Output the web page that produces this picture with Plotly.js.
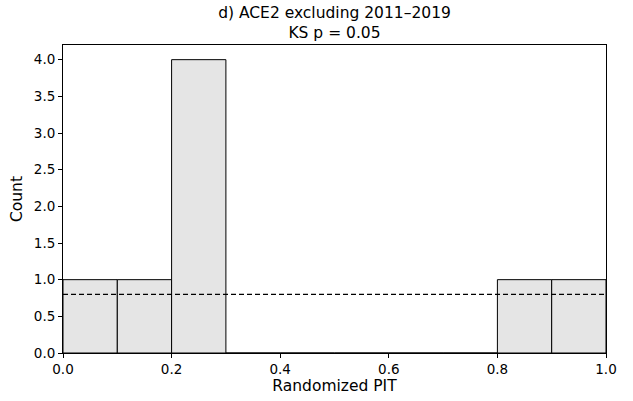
<!DOCTYPE html>
<html>
<head>
<meta charset="utf-8">
<script src="https://cdn.plot.ly/plotly-3.0.1.min.js"></script>
<style>html,body{margin:0;padding:0;background:#fff;}#chart{width:633px;height:401px;}</style>
</head>
<body>
<div id="chart"></div>
<script>
const binCenters = [0.05, 0.15, 0.25, 0.35, 0.45, 0.55, 0.65, 0.75, 0.85, 0.95];
const counts = [1, 1, 4, 0, 0, 0, 0, 0, 1, 1];
const expectedX = [0, 1];
const expectedY = [0.8, 0.8];
const xTicks = [0, 0.2, 0.4, 0.6, 0.8, 1.0];
const yTicks = [0, 0.5, 1.0, 1.5, 2.0, 2.5, 3.0, 3.5, 4.0];

const fam = 'DejaVu Sans, sans-serif';

const traces = [
  {type:'bar', x: binCenters, y: counts, width: 0.1,
   marker:{color:'#e5e5e5', line:{color:'#000', width:1}}, hoverinfo:'skip'},
  {type:'scatter', mode:'lines', x: expectedX, y: expectedY,
   line:{color:'#000', width:1.3, dash:'5px,3px'}, hoverinfo:'skip'}
];

const layout = {
  width:633, height:401,
  margin:{l:63, r:27, t:45, b:48},
  paper_bgcolor:'#fff', plot_bgcolor:'#fff',
  showlegend:false,
  bargap:0,
  font:{family:fam, color:'#000', size:13.5},
  title:{text:'d) ACE2 excluding 2011–2019<br>KS p = 0.05', font:{family:fam, size:15.5, color:'#000'},
         x:0.5, xref:'paper', y:0.955, yref:'container', yanchor:'top'},
  xaxis:{range:[0,1], tickvals:xTicks, ticktext:xTicks.map(v=>v.toFixed(1)),
         showgrid:false, zeroline:false, showline:true, linecolor:'#000', linewidth:1, mirror:true,
         ticks:'outside', ticklen:4, tickwidth:1, tickcolor:'#000',
         tickfont:{family:fam, size:13.5, color:'#000'},
         title:{text:'Randomized PIT', font:{family:fam, size:15.5, color:'#000'}, standoff:2}},
  yaxis:{range:[0,4.2], tickvals:yTicks, ticktext:yTicks.map(v=>v.toFixed(1)),
         showgrid:false, zeroline:false, showline:true, linecolor:'#000', linewidth:1, mirror:true,
         ticks:'outside', ticklen:4, tickwidth:1, tickcolor:'#000',
         tickfont:{family:fam, size:13.5, color:'#000'},
         title:{text:'Count', font:{family:fam, size:15.5, color:'#000'}, standoff:7}}
};

Plotly.newPlot('chart', traces, layout, {displayModeBar:false, staticPlot:true});
</script>
</body>
</html>
